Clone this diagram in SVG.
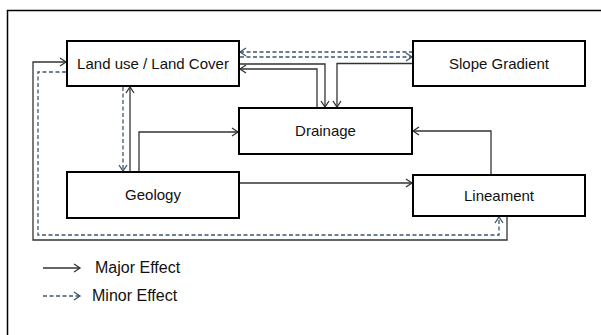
<svg xmlns="http://www.w3.org/2000/svg" width="601" height="335" viewBox="0 0 601 335">
<defs>
<marker id="ah" markerUnits="userSpaceOnUse" markerWidth="12" markerHeight="12" refX="9" refY="6" orient="auto">
<polyline points="3,2 9,6 3,10" fill="none" stroke="#333" stroke-width="1.3"/>
</marker>
<marker id="ahd" markerUnits="userSpaceOnUse" markerWidth="12" markerHeight="12" refX="9" refY="6" orient="auto">
<polyline points="3,2 9,6 3,10" fill="none" stroke="#3d5670" stroke-width="1.3"/>
</marker>
</defs>
<style>
.box{fill:#fff;stroke:#000;stroke-width:2}
.lbl{font-family:"Liberation Sans",Arial,sans-serif;font-size:15px;fill:#111;text-anchor:middle}
.leg{font-family:"Liberation Sans",Arial,sans-serif;font-size:16px;fill:#111}
.solid{fill:none;stroke:#333;stroke-width:1.3;marker-end:url(#ah)}
.dash{fill:none;stroke:#3d5670;stroke-width:1.3;stroke-dasharray:4,2.5;marker-end:url(#ahd)}
</style>
<rect width="601" height="335" fill="#fff"/>
<path d="M7.5,335 V10.5 H601" fill="none" stroke="#000" stroke-width="1.5"/>
<g id="connectors">
<path class="dash" d="M413,52 H240"/>
<path class="dash" d="M240,57 H412"/>
<path class="solid" d="M413,63.5 H337 V107"/>
<path class="solid" d="M240,64 H325 V107"/>
<path class="solid" d="M317,108 V69 H240"/>
<path class="solid" d="M130,172 V87"/>
<path class="dash" d="M123,87 V171"/>
<path class="solid" d="M139,172 V132 H238"/>
<path class="solid" d="M240,183 H412"/>
<path class="solid" d="M491,175 V131 H413"/>
<path class="solid" d="M507,217 V240 H33 V62 H66"/>
<path class="dash" d="M66,72 H38 V235 H499 V217"/>
</g>
<g id="landuse"><rect class="box" x="67" y="41" width="172" height="45"/><text class="lbl" x="153" y="69">Land use / Land Cover</text></g>
<g id="slope"><rect class="box" x="413" y="41" width="172" height="45"/><text class="lbl" x="499" y="69">Slope Gradient</text></g>
<g id="drainage"><rect class="box" x="239" y="108" width="173" height="46"/><text class="lbl" x="325.5" y="136">Drainage</text></g>
<g id="geology"><rect class="box" x="67" y="172" width="172" height="46"/><text class="lbl" x="153" y="200">Geology</text></g>
<g id="lineament"><rect class="box" x="413" y="175" width="172" height="41"/><text class="lbl" x="499" y="201">Lineament</text></g>
<g id="legend">
<path class="solid" d="M43,268 H80"/>
<text class="leg" x="95" y="273">Major Effect</text>
<path class="dash" d="M43,296 H80"/>
<text class="leg" x="92" y="301">Minor Effect</text>
</g>
</svg>
